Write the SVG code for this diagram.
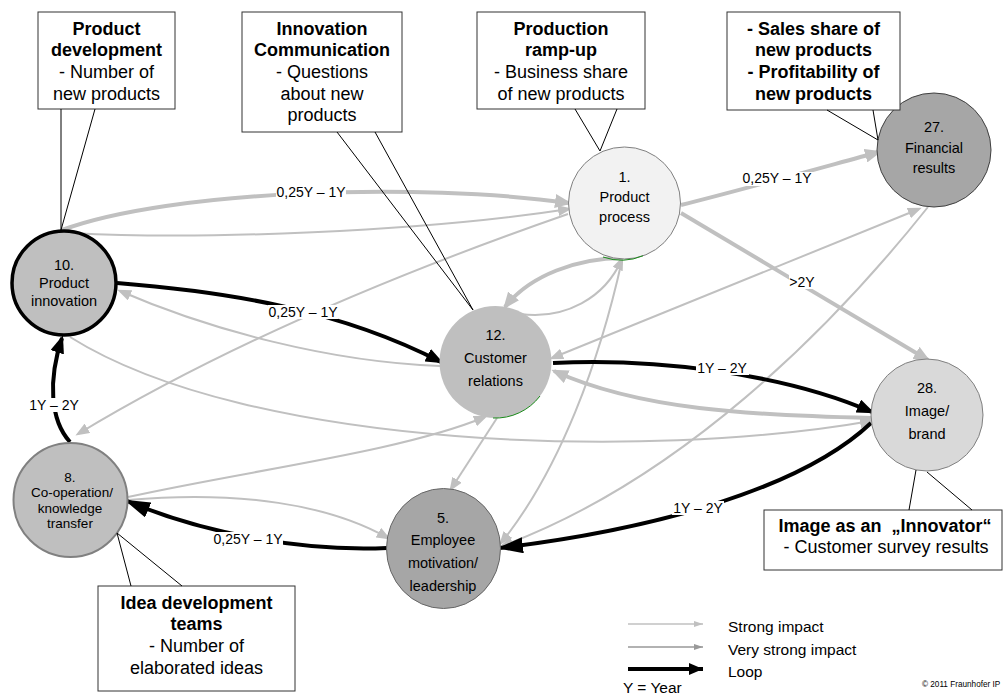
<svg xmlns="http://www.w3.org/2000/svg" width="1004" height="695" viewBox="0 0 1004 695">
<style>
text{font-family:"Liberation Sans",Arial,sans-serif;fill:#000}
.nt{font-size:14.5px;text-anchor:middle}
.bt{font-size:18px;text-anchor:middle}
.b{font-weight:bold}
.lb{font-size:14px;text-anchor:middle}
.lg{font-size:15.5px}
.g1{fill:none;stroke:#c0c0c0;stroke-width:2}
.g2{fill:none;stroke:#c0c0c0;stroke-width:4}
.bk{fill:none;stroke:#000;stroke-width:4}
.box{fill:#fff;stroke:#333;stroke-width:1}
.tail{fill:none;stroke:#000;stroke-width:1}
.lbg{fill:#fff}
</style>
<defs>
<marker id="ag" viewBox="0 0 14 11" refX="11" refY="5.5" markerWidth="14" markerHeight="11" markerUnits="userSpaceOnUse" orient="auto-start-reverse"><path d="M0,0 L14,5.5 L0,11 z" fill="#c0c0c0"/></marker>
<marker id="agt" viewBox="0 0 17 14" refX="14" refY="7" markerWidth="17" markerHeight="14" markerUnits="userSpaceOnUse" orient="auto"><path d="M0,0 L17,7 L0,14 z" fill="#c0c0c0"/></marker>
<marker id="ab" viewBox="0 0 18 14" refX="15" refY="7" markerWidth="18" markerHeight="14" markerUnits="userSpaceOnUse" orient="auto"><path d="M0,0 L18,7 L0,14 z" fill="#000"/></marker>
<marker id="abl" viewBox="0 0 26 16" refX="23" refY="8" markerWidth="26" markerHeight="16" markerUnits="userSpaceOnUse" orient="auto"><path d="M0,0 L26,8 L0,16 z" fill="#000"/></marker>
<marker id="lg1" viewBox="0 0 9 6" refX="9" refY="3" markerWidth="9" markerHeight="6" markerUnits="userSpaceOnUse" orient="auto"><path d="M0,0 L9,3 L0,6 z" fill="#c0c0c0"/></marker>
<marker id="lg2" viewBox="0 0 9 6" refX="9" refY="3" markerWidth="9" markerHeight="6" markerUnits="userSpaceOnUse" orient="auto"><path d="M0,0 L9,3 L0,6 z" fill="#999"/></marker>
<marker id="lg3" viewBox="0 0 14 12" refX="14" refY="6" markerWidth="14" markerHeight="12" markerUnits="userSpaceOnUse" orient="auto"><path d="M0,0 L14,6 L0,12 z" fill="#000"/></marker>
</defs>

<g id="connectors">
<path class="g2" d="M62,230 C170,190 420,182 569,203" marker-end="url(#agt)"/>
<path class="g1" d="M72,233 C200,240 420,232 569,209" marker-end="url(#ag)"/>
<path class="g1" d="M568,214 C450,255 250,330 78,434" marker-end="url(#ag)"/>
<path class="g1" d="M440,366 C330,362 210,330 120,291" marker-end="url(#ag)"/>
<path class="g1" d="M70,337 C250,450 650,460 871,421" marker-end="url(#ag)"/>
<path class="g1" d="M128,497 C250,470 400,452 485,417" marker-end="url(#ag)"/>
<path class="g1" d="M128,500 C240,490 330,505 388,538" marker-end="url(#ag)"/>
<path class="g1" d="M497,418 L451,489" marker-end="url(#ag)"/>
<path class="g1" d="M520,314 C565,320 605,298 622,259" marker-end="url(#ag)"/>
<path class="g2" d="M623,258 C578,258 530,275 505,307" marker-end="url(#agt)"/>
<path class="g1" d="M622,260 C600,360 560,470 501,543" marker-end="url(#ag)"/>
<path class="g1" d="M928,207 C830,330 680,480 502,546" marker-end="url(#ag)"/>
<path class="g1" d="M552,358 L919,209" marker-start="url(#ag)" marker-end="url(#ag)"/>
<path class="g2" d="M681,205 C730,193 820,168 879,152" marker-end="url(#agt)"/>
<path class="g2" d="M681,213 L928,360" marker-end="url(#agt)"/>
<path class="g2" d="M871,418 C750,415 640,410 554,371" marker-end="url(#agt)"/>
<path class="bk" d="M117,283 C230,292 340,310 441,362" marker-end="url(#ab)"/>
<path class="bk" d="M70,442 C50,420 48,380 62,338" marker-end="url(#ab)"/>
<path class="bk" d="M387,548 C300,552 200,532 127,501" marker-end="url(#abl)"/>
<path class="bk" d="M553,363 C650,358 780,372 872,412" marker-end="url(#ab)"/>
<path class="bk" d="M871,423 C800,490 650,530 500,548" marker-end="url(#abl)"/>
</g>

<g id="labels">
<rect class="lbg" x="276" y="185" width="70" height="14"/><text class="lb" x="311" y="197">0,25Y – 1Y</text>
<rect class="lbg" x="268" y="305" width="70" height="14"/><text class="lb" x="303" y="317">0,25Y – 1Y</text>
<rect class="lbg" x="28" y="398" width="52" height="14"/><text class="lb" x="54" y="410">1Y – 2Y</text>
<rect class="lbg" x="213" y="532" width="70" height="14"/><text class="lb" x="248" y="544">0,25Y – 1Y</text>
<rect class="lbg" x="742" y="172" width="71" height="14"/><text class="lb" x="777" y="183">0,25Y – 1Y</text>
<rect class="lbg" x="789" y="275" width="27" height="14"/><text class="lb" x="802" y="287">&gt;2Y</text>
<rect class="lbg" x="696" y="361" width="53" height="14"/><text class="lb" x="722" y="373">1Y – 2Y</text>
<rect class="lbg" x="672" y="501" width="52" height="14"/><text class="lb" x="698" y="513">1Y – 2Y</text>
</g>

<g id="node10">
<circle cx="64" cy="283" r="52" fill="#bfbfbf" stroke="#000" stroke-width="3.5"/>
<text class="nt" x="64" y="270">10.</text>
<text class="nt" x="64" y="288">Product</text>
<text class="nt" x="64" y="306">innovation</text>
</g>
<g id="node1">
<circle cx="624.5" cy="203" r="56" fill="#f2f2f2" stroke="#808080" stroke-width="1"/>
<path d="M603,257 A56,56 0 0 0 643,255.8" fill="none" stroke="#1a8a1a" stroke-width="1"/>
<text class="nt" x="624.5" y="182">1.</text>
<text class="nt" x="624.5" y="202">Product</text>
<text class="nt" x="624.5" y="222">process</text>
</g>
<g id="node27">
<circle cx="934" cy="150" r="57" fill="#a6a6a6" stroke="#404040" stroke-width="1"/>
<text class="nt" x="934" y="132">27.</text>
<text class="nt" x="934" y="153">Financial</text>
<text class="nt" x="934" y="173">results</text>
</g>
<g id="node12">
<circle cx="495.5" cy="362" r="56" fill="#bfbfbf"/>
<path d="M493,418 A56,56 0 0 0 540,396" fill="none" stroke="#1a8a1a" stroke-width="1"/>
<text class="nt" x="495.5" y="340">12.</text>
<text class="nt" x="495.5" y="363">Customer</text>
<text class="nt" x="495.5" y="386">relations</text>
</g>
<g id="node28">
<circle cx="927" cy="415" r="56" fill="#d9d9d9" stroke="#808080" stroke-width="1"/>
<text class="nt" x="927" y="393">28.</text>
<text class="nt" x="927" y="416">Image/</text>
<text class="nt" x="927" y="439">brand</text>
</g>
<g id="node5">
<ellipse cx="443.5" cy="548.5" rx="57" ry="60" fill="#a6a6a6" stroke="#666" stroke-width="1"/>
<text class="nt" x="443" y="523">5.</text>
<text class="nt" x="443" y="545">Employee</text>
<text class="nt" x="443" y="568">motivation/</text>
<text class="nt" x="443" y="591">leadership</text>
</g>
<g id="node8">
<circle cx="70.5" cy="500" r="57" fill="#bfbfbf" stroke="#808080" stroke-width="2"/>
<text class="nt" x="70" y="482" style="font-size:13.5px">8.</text>
<text class="nt" x="72" y="497" style="font-size:13.5px">Co-operation/</text>
<text class="nt" x="70" y="513" style="font-size:13.5px">knowledge</text>
<text class="nt" x="70" y="528" style="font-size:13.5px">transfer</text>
</g>

<g id="callout-product-development">
<rect class="box" x="38" y="12" width="137" height="97"/>
<path class="tail" d="M61,109 L61,230 L95,109"/>
<text class="bt b" x="106.5" y="35">Product</text>
<text class="bt b" x="106.5" y="56">development</text>
<text class="bt" x="106.5" y="78">- Number of</text>
<text class="bt" x="106.5" y="100">new products</text>
</g>
<g id="callout-innovation-communication">
<rect class="box" x="242" y="12" width="160" height="120"/>
<path class="tail" d="M337,132 L473,310 L375,132"/>
<text class="bt b" x="322" y="35">Innovation</text>
<text class="bt b" x="322" y="56">Communication</text>
<text class="bt" x="322" y="78">- Questions</text>
<text class="bt" x="322" y="100">about new</text>
<text class="bt" x="322" y="121">products</text>
</g>
<g id="callout-production-rampup">
<rect class="box" x="477" y="12" width="168" height="97"/>
<path class="tail" d="M575,109 L600,151 L617,109"/>
<text class="bt b" x="561" y="35">Production</text>
<text class="bt b" x="561" y="56">ramp-up</text>
<text class="bt" x="561" y="78">- Business share</text>
<text class="bt" x="561" y="100">of new products</text>
</g>
<g id="callout-sales-share">
<rect class="box" x="727" y="12" width="173" height="98"/>
<path class="tail" d="M827,110 L878,140 L873,110"/>
<text class="bt b" x="813.5" y="35">- Sales share of</text>
<text class="bt b" x="813.5" y="56">new products</text>
<text class="bt b" x="813.5" y="78">- Profitability of</text>
<text class="bt b" x="813.5" y="100">new products</text>
</g>
<g id="callout-idea-development">
<rect class="box" x="98" y="586" width="197" height="105"/>
<path class="tail" d="M131,586 L117,533 L182,586"/>
<text class="bt b" x="196.5" y="609">Idea development</text>
<text class="bt b" x="196.5" y="630">teams</text>
<text class="bt" x="196.5" y="652">- Number of</text>
<text class="bt" x="196.5" y="674">elaborated ideas</text>
</g>
<g id="callout-image">
<rect class="box" x="764" y="510" width="238" height="60"/>
<path class="tail" d="M909,510 L916,470 M972,510 L927,472"/>
<text class="bt b" x="885" y="532">Image as an&#160; „Innovator“</text>
<text class="bt" x="886" y="553">- Customer survey results</text>
</g>

<g id="legend">
<line x1="628" y1="624" x2="703" y2="624" stroke="#c0c0c0" stroke-width="1.5" marker-end="url(#lg1)"/>
<line x1="628" y1="647" x2="703" y2="647" stroke="#999" stroke-width="1.5" marker-end="url(#lg2)"/>
<line x1="628" y1="669" x2="703" y2="669" stroke="#000" stroke-width="4" marker-end="url(#lg3)"/>
<text class="lg" x="728" y="632">Strong impact</text>
<text class="lg" x="728" y="655">Very strong impact</text>
<text class="lg" x="728" y="677">Loop</text>
<text class="lg" x="623" y="693">Y = Year</text>
<text x="922" y="687" style="font-size:8.2px">© 2011 Fraunhofer IP</text>
</g>
</svg>
